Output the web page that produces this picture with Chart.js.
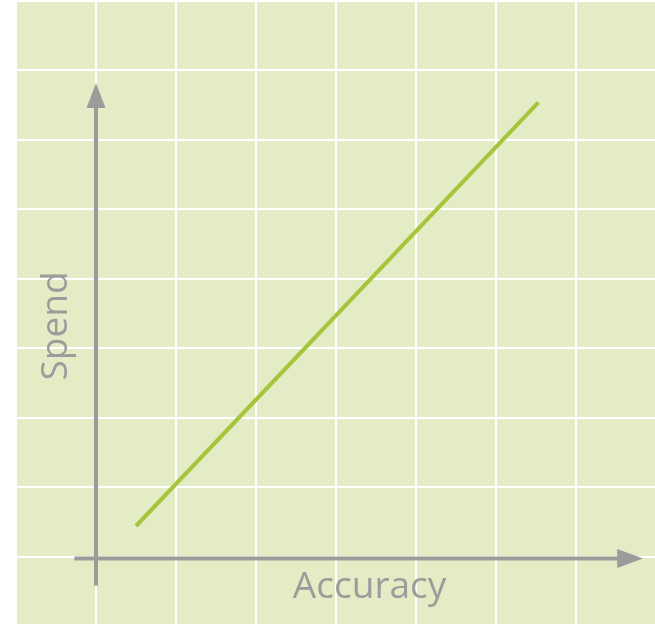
<!DOCTYPE html>
<html>
<head>
<meta charset="utf-8">
<script src="https://cdn.jsdelivr.net/npm/chart.js@4"></script>
<style>
  html, body { margin: 0; padding: 0; background: #fff; overflow: hidden; width: 655px; height: 624px; }
  #wrap { position: absolute; left: 16px; top: 1px; width: 640px; height: 625px; }
</style>
</head>
<body>
<div id="wrap"><canvas id="chart" width="640" height="625"></canvas></div>
<script>
// line endpoints, in grid units (axis origin = 0,0)
const accuracy = [0.5, 5.53];
const spend = [0.44, 6.54];

// axis extents (grid units)
const xAxisRange = [-0.27, 6.84];
const yAxisRange = [-0.42, 6.82];
const axisLabels = ['Accuracy', 'Spend'];

const bgColor = '#e4ecc5';
const axisGray = '#9c9c9c';
const lineGreen = '#a5c63a';

// paints the panel, the two arrowed axes and their labels
const decor = {
    id: 'decor',
    beforeDraw(chart) {
        const { ctx, chartArea: a } = chart;
        ctx.save();
        ctx.fillStyle = bgColor;
        ctx.fillRect(a.left, a.top + 1, a.right - a.left, a.bottom - a.top);
        ctx.restore();
    },
    beforeDatasetsDraw(chart) {
        const { ctx, scales: { x, y } } = chart;
        const x0 = x.getPixelForValue(0);
        const y0 = y.getPixelForValue(0) + 2;
        ctx.save();
        ctx.strokeStyle = axisGray;
        ctx.fillStyle = axisGray;
        ctx.lineWidth = 4;

        // horizontal axis
        const hx1 = x.getPixelForValue(xAxisRange[0]);
        const hx2 = x.getPixelForValue(xAxisRange[1]);
        ctx.beginPath();
        ctx.moveTo(hx1, y0);
        ctx.lineTo(hx2 - 20, y0);
        ctx.stroke();
        ctx.beginPath();
        ctx.moveTo(hx2, y0);
        ctx.lineTo(hx2 - 26, y0 - 9.5);
        ctx.lineTo(hx2 - 26, y0 + 9.5);
        ctx.closePath();
        ctx.fill();

        // vertical axis
        const vy1 = y.getPixelForValue(yAxisRange[0]);
        const vy2 = y.getPixelForValue(yAxisRange[1]);
        ctx.beginPath();
        ctx.moveTo(x0, vy1);
        ctx.lineTo(x0, vy2 + 20);
        ctx.stroke();
        ctx.beginPath();
        ctx.moveTo(x0, vy2);
        ctx.lineTo(x0 - 9.5, vy2 + 25);
        ctx.lineTo(x0 + 9.5, vy2 + 25);
        ctx.closePath();
        ctx.fill();

        // labels
        ctx.font = '37px "Open Sans"';
        ctx.textAlign = 'center';
        ctx.textBaseline = 'middle';
        ctx.fillText(axisLabels[0], x.getPixelForValue(3.42), y.getPixelForValue(-0.44));
        ctx.translate(x.getPixelForValue(-0.5), y.getPixelForValue(3.32));
        ctx.rotate(-Math.PI / 2);
        ctx.fillText(axisLabels[1], 0, 0);
        ctx.restore();
    }
};

const gridOpts = { color: '#ffffff', lineWidth: 2, drawTicks: false };

new Chart(document.getElementById('chart'), {
    type: 'line',
    data: {
        datasets: [{
            data: accuracy.map((v, i) => ({ x: v, y: spend[i] })),
            borderColor: lineGreen,
            borderWidth: 4,
            pointRadius: 0,
            fill: false
        }]
    },
    options: {
        responsive: false,
        animation: false,
        layout: { padding: 0 },
        plugins: { legend: { display: false }, tooltip: { enabled: false } },
        scales: {
            x: {
                type: 'linear', min: -1, max: 7,
                ticks: { display: false, stepSize: 1 },
                grid: gridOpts,
                border: { display: false },
                afterFit: s => { s.height = 0; }
            },
            y: {
                type: 'linear', min: -1, max: 8,
                ticks: { display: false, stepSize: 1 },
                grid: gridOpts,
                border: { display: false },
                afterFit: s => { s.width = 0; }
            }
        }
    },
    plugins: [decor]
});
</script>
</body>
</html>
